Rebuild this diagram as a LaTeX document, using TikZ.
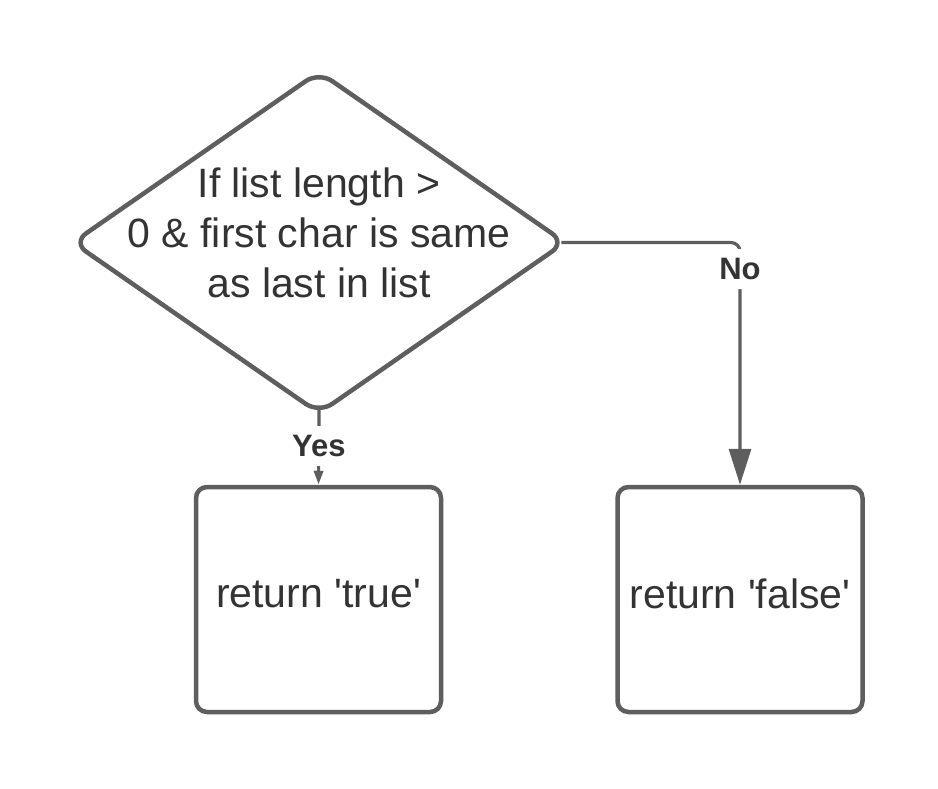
\documentclass[tikz,border=0pt]{standalone}
\usepackage{fontspec}
\setmainfont{Liberation Sans}
\usetikzlibrary{shapes.geometric,arrows.meta}
\definecolor{linegray}{HTML}{5E5E5E}
\definecolor{txtgray}{HTML}{333333}
\tikzset{
  shapeline/.style={draw=linegray, line width=4.5pt},
  boxnode/.style={shapeline, rounded corners=11pt, minimum width=245pt, minimum height=225pt, inner sep=0pt},
  dianode/.style={shapeline, diamond, rounded corners=16pt, minimum width=494pt, minimum height=343pt, inner sep=0pt},
  bigtext/.style={text=txtgray, font=\fontsize{41}{50}\selectfont, align=center},
  conn/.style={draw=linegray, line width=3.2pt},
  lbl/.style={text=txtgray, font=\fontsize{31}{34}\selectfont\bfseries, fill=white, inner sep=0pt},
}
\begin{document}
\begin{tikzpicture}[x=1pt,y=-1pt]
\useasboundingbox (0,0) rectangle (938,788);
\node[dianode] (d) at (319,242.5) {};
\node[bigtext] (dt) at (319,233) {If list length >\\0 \& first char is same\\as last in list};
\node[boxnode] (t) at (318.5,599.5) {};
\node[bigtext] (tt) at (318.5,594) {return \textquotesingle true\textquotesingle};
\node[boxnode] (f) at (740,599.5) {};
\node[bigtext] (ft) at (740,594) {return \textquotesingle false\textquotesingle};
\draw[conn, shorten <=-7pt, -{Triangle[length=14pt,width=9pt]}] (d.south) -- (t.north)
  node[lbl, pos=0.44, minimum height=40pt, minimum width=62pt] (yes) {Yes};
\draw[conn, shorten <=-7pt, rounded corners=9pt, -{Triangle[length=36pt,width=22pt]}] (d.east) -| (f.north)
  node[lbl, pos=0.555, minimum height=40pt, minimum width=52pt] (no) {No};
\end{tikzpicture}
\end{document}
